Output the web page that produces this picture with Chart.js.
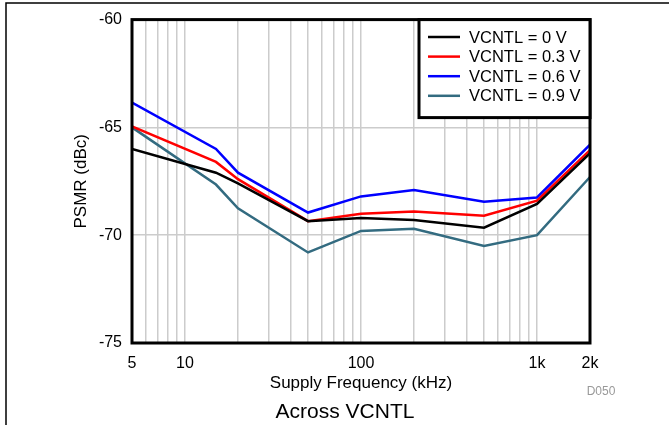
<!DOCTYPE html>
<html>
<head>
<meta charset="utf-8">
<script src="https://cdn.jsdelivr.net/npm/chart.js@4.4.0/dist/chart.umd.min.js"></script>
<style>
  html, body { margin: 0; padding: 0; background: #fff; }
  canvas { display: block; }
</style>
</head>
<body>
<canvas id="psmrChart" width="669" height="425"></canvas>
<script>
// Supply frequency points (kHz)
const freqs = [5, 15, 20, 50, 100, 200, 500, 1000, 2000];

// PSMR (dBc) per VCNTL setting
const psmr0V  = [-66.0, -67.1, -67.6, -69.35, -69.2, -69.3, -69.65, -68.55, -66.2];
const psmr03V = [-64.95, -66.6, -67.4, -69.35, -69.0, -68.9, -69.1, -68.4, -66.05];
const psmr06V = [-63.85, -66.0, -67.1, -68.95, -68.2, -67.9, -68.45, -68.25, -65.8];
const psmr09V = [-65.0, -67.65, -68.75, -70.8, -69.8, -69.7, -70.5, -70.0, -67.3];

const seriesLabels = ["VCNTL = 0 V", "VCNTL = 0.3 V", "VCNTL = 0.6 V", "VCNTL = 0.9 V"];
const seriesColors = ["#000000", "#ff0000", "#0000ff", "#336b80"];

// grid lines of the log axis, and which of them get a label
const xGrid = [5, 6, 7, 8, 9, 10, 20, 30, 40, 50, 60, 70, 80, 90, 100,
               200, 300, 400, 500, 600, 700, 800, 900, 1000, 2000];
const xLabels = { 5: "5", 10: "10", 100: "100", 1000: "1k", 2000: "2k" };
const yTicks = [-75, -70, -65, -60];

const FONT = "'Liberation Sans', Arial, sans-serif";

function toPoints(ys) {
  return freqs.map((f, i) => ({ x: f, y: ys[i] }));
}

const allSeries = [psmr0V, psmr03V, psmr06V, psmr09V];

// frame, legend and the extra texts
const extras = {
  id: "extras",
  afterDraw(chart) {
    const ctx = chart.ctx;
    const a = chart.chartArea;
    ctx.save();

    // outer frame (top + left)
    ctx.strokeStyle = "#000";
    ctx.lineWidth = 1.5;
    ctx.beginPath();
    ctx.moveTo(6, 425);
    ctx.lineTo(6, 3);
    ctx.lineTo(669, 3);
    ctx.stroke();

    // plot frame
    ctx.lineWidth = 3;
    ctx.strokeRect(a.left, a.top, a.right - a.left, a.bottom - a.top);

    // legend box
    const lx = 419, ly = a.top, lw = a.right - 419, lh = 98;
    ctx.fillStyle = "#fff";
    ctx.fillRect(lx, ly, lw, lh);
    ctx.strokeRect(lx, ly, lw, lh);
    ctx.font = "16.5px " + FONT;
    ctx.textBaseline = "middle";
    ctx.textAlign = "left";
    chart.data.datasets.forEach((ds, i) => {
      const y = 37 + i * 19.6;
      ctx.strokeStyle = ds.borderColor;
      ctx.lineWidth = 2.5;
      ctx.beginPath();
      ctx.moveTo(428, y);
      ctx.lineTo(460, y);
      ctx.stroke();
      ctx.fillStyle = "#000";
      ctx.fillText(ds.label, 469, y + 1);
    });

    // axis titles
    ctx.fillStyle = "#000";
    ctx.font = "17px " + FONT;
    ctx.textAlign = "center";
    ctx.fillText("Supply Frequency (kHz)", (a.left + a.right) / 2, 383);
    ctx.save();
    ctx.translate(81, (a.top + a.bottom) / 2);
    ctx.rotate(-Math.PI / 2);
    ctx.fillText("PSMR (dBc)", 0, 0);
    ctx.restore();

    // caption and figure id
    ctx.font = "21px " + FONT;
    ctx.fillText("Across VCNTL", 345, 412);
    ctx.font = "12px " + FONT;
    ctx.fillStyle = "#999";
    ctx.fillText("D050", 601, 392);

    ctx.restore();
  }
};

new Chart(document.getElementById("psmrChart"), {
  type: "line",
  data: {
    datasets: allSeries.map((ys, i) => ({
      label: seriesLabels[i],
      data: toPoints(ys),
      borderColor: seriesColors[i],
      backgroundColor: seriesColors[i],
      borderWidth: 2.5,
      pointRadius: 0,
      tension: 0,
      fill: false
    }))
  },
  options: {
    responsive: false,
    animation: false,
    layout: { padding: { top: 17, right: 79, left: 0, bottom: 0 } },
    plugins: {
      legend: { display: false },
      tooltip: { enabled: false }
    },
    scales: {
      x: {
        type: "logarithmic",
        min: 5,
        max: 2000,
        afterBuildTicks: (scale) => {
          scale.ticks = xGrid.map(v => ({ value: v }));
        },
        afterFit: (scale) => { scale.height = 82; },
        grid: { color: "#cccccc", lineWidth: 1.5, drawTicks: false },
        border: { display: false },
        ticks: {
          autoSkip: false,
          maxRotation: 0,
          padding: 11,
          color: "#000",
          font: { family: FONT, size: 16 },
          callback: (v) => xLabels[v] || ""
        }
      },
      y: {
        min: -75,
        max: -60,
        afterBuildTicks: (scale) => {
          scale.ticks = yTicks.map(v => ({ value: v }));
        },
        afterFit: (scale) => { scale.width = 132; },
        grid: { color: "#cccccc", lineWidth: 1.5, drawTicks: false },
        border: { display: false },
        ticks: {
          padding: 10,
          color: "#000",
          font: { family: FONT, size: 16 }
        }
      }
    }
  },
  plugins: [extras]
});
</script>
</body>
</html>
